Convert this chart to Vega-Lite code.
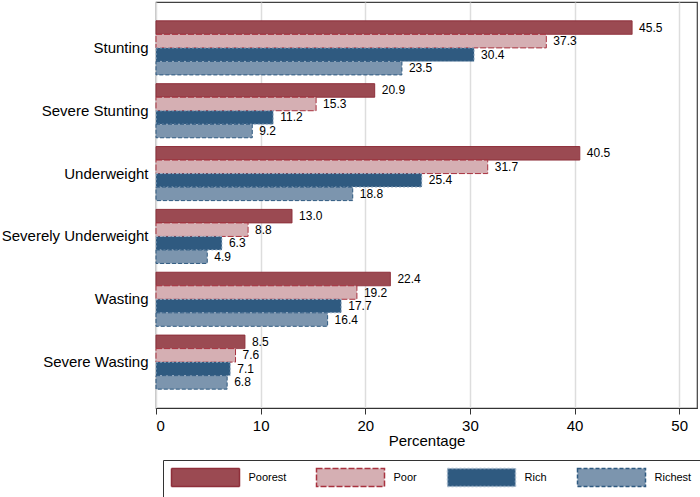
{
  "$schema": "https://vega.github.io/schema/vega-lite/v6.json",
  "autosize": {"type": "none"},
  "width": 541,
  "height": 406,
  "padding": {"left": 156, "top": 2, "right": 3, "bottom": 89},
  "config": {
    "font": "Liberation Sans",
    "view": {"stroke": "#404040", "strokeWidth": 1.2}
  },
  "data": {
    "values": [
      {"indicator": "Stunting", "group": "Poorest", "pct": 45.5},
      {"indicator": "Stunting", "group": "Poor", "pct": 37.3},
      {"indicator": "Stunting", "group": "Rich", "pct": 30.4},
      {"indicator": "Stunting", "group": "Richest", "pct": 23.5},
      {"indicator": "Severe Stunting", "group": "Poorest", "pct": 20.9},
      {"indicator": "Severe Stunting", "group": "Poor", "pct": 15.3},
      {"indicator": "Severe Stunting", "group": "Rich", "pct": 11.2},
      {"indicator": "Severe Stunting", "group": "Richest", "pct": 9.2},
      {"indicator": "Underweight", "group": "Poorest", "pct": 40.5},
      {"indicator": "Underweight", "group": "Poor", "pct": 31.7},
      {"indicator": "Underweight", "group": "Rich", "pct": 25.4},
      {"indicator": "Underweight", "group": "Richest", "pct": 18.8},
      {"indicator": "Severely Underweight", "group": "Poorest", "pct": 13.0},
      {"indicator": "Severely Underweight", "group": "Poor", "pct": 8.8},
      {"indicator": "Severely Underweight", "group": "Rich", "pct": 6.3},
      {"indicator": "Severely Underweight", "group": "Richest", "pct": 4.9},
      {"indicator": "Wasting", "group": "Poorest", "pct": 22.4},
      {"indicator": "Wasting", "group": "Poor", "pct": 19.2},
      {"indicator": "Wasting", "group": "Rich", "pct": 17.7},
      {"indicator": "Wasting", "group": "Richest", "pct": 16.4},
      {"indicator": "Severe Wasting", "group": "Poorest", "pct": 8.5},
      {"indicator": "Severe Wasting", "group": "Poor", "pct": 7.6},
      {"indicator": "Severe Wasting", "group": "Rich", "pct": 7.1},
      {"indicator": "Severe Wasting", "group": "Richest", "pct": 6.8}
    ]
  },
  "encoding": {
    "y": {
      "field": "indicator",
      "type": "nominal",
      "sort": ["Stunting", "Severe Stunting", "Underweight", "Severely Underweight", "Wasting", "Severe Wasting"],
      "scale": {"paddingInner": 0.14, "paddingOuter": 0.3},
      "axis": {
        "title": null,
        "ticks": false,
        "domain": false,
        "labelFontSize": 15,
        "labelColor": "#000",
        "labelPadding": 8,
        "labelLimit": 200
      }
    },
    "yOffset": {
      "field": "group",
      "type": "nominal",
      "sort": ["Poorest", "Poor", "Rich", "Richest"],
      "scale": {"paddingInner": 0, "paddingOuter": 0}
    },
    "x": {
      "field": "pct",
      "type": "quantitative",
      "scale": {"domain": [0, 51.7], "nice": false, "zero": true},
      "axis": {
        "title": "Percentage",
        "titleFontSize": 15,
        "titleFontWeight": "normal",
        "titleColor": "#000",
        "titlePadding": 0,
        "values": [0, 10, 20, 30, 40, 50],
        "labelFontSize": 15,
        "labelColor": "#000",
        "labelPadding": 4,
        "tickColor": "#333",
        "tickSize": 6,
        "domainColor": "#333",
        "gridColor": "#dddddd",
        "gridWidth": 1.5
      }
    }
  },
  "layer": [
    {
      "mark": {"type": "bar", "strokeWidth": 1},
      "encoding": {
        "color": {
          "field": "group",
          "type": "nominal",
          "sort": ["Poorest", "Poor", "Rich", "Richest"],
          "scale": {"domain": ["Poorest", "Poor", "Rich", "Richest"], "range": ["#9b4a52", "#d5afb3", "#2f5a80", "#7c95ae"]},
          "legend": {
            "title": null,
            "orient": "none",
            "legendX": 7,
            "legendY": 458,
            "direction": "horizontal",
            "columns": 4,
            "columnPadding": 27,
            "padding": 8.5,
            "strokeColor": "#333",
            "labelFontSize": 11,
            "labelColor": "#000",
            "labelOffset": 34,
            "symbolOffset": 25,
            "symbolType": "M-4.25,-1.125H4.25V1.125H-4.25Z",
            "symbolSize": 256,
            "symbolStrokeWidth": 1.5,
            "symbolOpacity": 1
          }
        },
        "stroke": {
          "field": "group",
          "type": "nominal",
          "sort": ["Poorest", "Poor", "Rich", "Richest"],
          "scale": {"domain": ["Poorest", "Poor", "Rich", "Richest"], "range": ["#8e2f3a", "#a8323f", "#9fb4c9", "#2f5a80"]}
        },
        "strokeDash": {
          "field": "group",
          "type": "nominal",
          "sort": ["Poorest", "Poor", "Rich", "Richest"],
          "scale": {"domain": ["Poorest", "Poor", "Rich", "Richest"], "range": [[1, 0], [6, 2], [2, 2], [4, 2]]}
        }
      }
    },
    {
      "mark": {"type": "text", "align": "left", "baseline": "middle", "dx": 7, "fontSize": 12, "color": "#000"},
      "encoding": {
        "text": {"field": "pct", "type": "quantitative", "format": ".1f"}
      }
    }
  ]
}
